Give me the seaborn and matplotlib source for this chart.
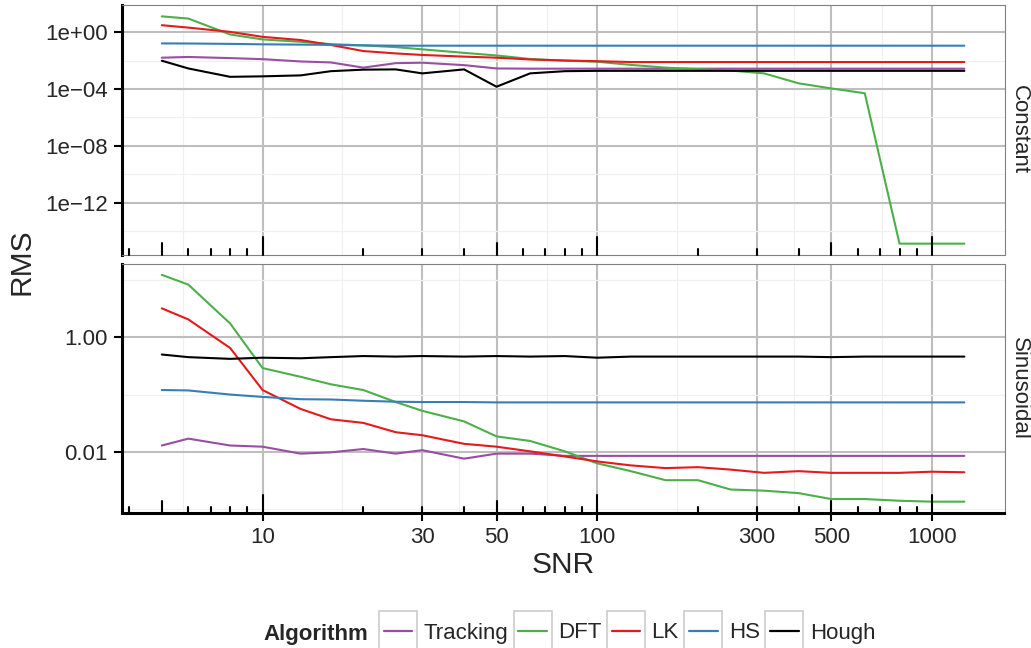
import pandas as pd
import seaborn as sns
import matplotlib.pyplot as plt
from matplotlib.patches import Rectangle
from matplotlib.lines import Line2D
from matplotlib.legend_handler import HandlerLine2D

# SNR values shared by every series
snr = [5, 6, 8, 10, 13, 16, 20, 25, 30, 40, 50, 63, 80, 100, 126, 160, 200,
       250, 315, 400, 500, 630, 800, 1000, 1250]

algorithms = ['Tracking', 'DFT', 'LK', 'HS', 'Hough']
colors = ['#984EA3', '#4DAF4A', '#E41A1C', '#377EB8', '#000000']

# Constant pattern
const_tracking = [1.6e-2, 1.8e-2, 1.5e-2, 1.26e-2, 8.7e-3, 7.4e-3, 3.2e-3, 6.6e-3, 7.1e-3,
                  4.8e-3, 2.8e-3, 2.7e-3, 2.7e-3, 2.7e-3, 2.7e-3, 2.7e-3, 2.7e-3, 2.7e-3,
                  2.7e-3, 2.7e-3, 2.7e-3, 2.7e-3, 2.7e-3, 2.7e-3, 2.7e-3]
const_dft = [13.0, 9.1, 0.69, 0.31, 0.21, 0.145, 0.117, 0.089, 0.062, 0.035, 0.023,
             0.013, 0.0098, 0.0083, 0.005, 0.0032, 0.0025, 0.002, 0.00126, 2.5e-4,
             1.1e-4, 5.0e-5, 1.3e-15, 1.3e-15, 1.3e-15]
const_lk = [3.1, 2.1, 1.05, 0.47, 0.28, 0.125, 0.047, 0.032, 0.025, 0.019, 0.016,
            0.012, 0.0102, 0.0091, 0.0079, 0.0079, 0.0079, 0.0079, 0.0079, 0.0079,
            0.0079, 0.0079, 0.0079, 0.0079, 0.0079]
const_hs = [0.162, 0.160, 0.150, 0.140, 0.133, 0.127, 0.118, 0.112, 0.112, 0.112,
            0.112, 0.112, 0.112, 0.112, 0.112, 0.112, 0.112, 0.112, 0.112, 0.112,
            0.112, 0.112, 0.112, 0.112, 0.112]
const_hough = [9.8e-3, 2.8e-3, 7.2e-4, 7.8e-4, 9.1e-4, 1.8e-3, 2.3e-3, 2.4e-3, 1.26e-3,
               2.4e-3, 1.45e-4, 1.26e-3, 1.8e-3, 1.9e-3, 1.9e-3, 1.9e-3, 1.9e-3, 1.9e-3,
               1.9e-3, 1.9e-3, 1.9e-3, 1.9e-3, 1.9e-3, 1.9e-3, 1.9e-3]

# Sinusoidal pattern
sin_tracking = [0.0129, 0.017, 0.0129, 0.0123, 0.0093, 0.0098, 0.0112, 0.0093, 0.0107,
                0.0076, 0.0093, 0.0093, 0.0085, 0.0085, 0.0085, 0.0085, 0.0085, 0.0085,
                0.0085, 0.0085, 0.0085, 0.0085, 0.0085, 0.0085, 0.0085]
sin_dft = [12.3, 8.3, 1.74, 0.29, 0.204, 0.151, 0.12, 0.074, 0.052, 0.034, 0.0186,
           0.0155, 0.0102, 0.0063, 0.0046, 0.0032, 0.0032, 0.0022, 0.0021, 0.0019,
           0.0015, 0.0015, 0.0014, 0.00135, 0.00135]
sin_lk = [3.2, 2.05, 0.65, 0.12, 0.056, 0.037, 0.032, 0.022, 0.0195, 0.0138, 0.0123,
          0.0102, 0.0083, 0.0068, 0.0058, 0.0052, 0.0054, 0.0049, 0.0043, 0.0046,
          0.0043, 0.0043, 0.0043, 0.0045, 0.0044]
sin_hs = [0.120, 0.118, 0.100, 0.091, 0.083, 0.082, 0.078, 0.075, 0.074, 0.074, 0.073,
          0.073, 0.073, 0.073, 0.073, 0.073, 0.073, 0.073, 0.073, 0.073, 0.073, 0.073,
          0.073, 0.073, 0.073]
sin_hough = [0.50, 0.45, 0.42, 0.44, 0.43, 0.45, 0.47, 0.46, 0.47, 0.46, 0.47, 0.46,
             0.47, 0.44, 0.46, 0.46, 0.46, 0.46, 0.46, 0.46, 0.45, 0.46, 0.46, 0.46, 0.46]

panels = {
    'Constant': [const_tracking, const_dft, const_lk, const_hs, const_hough],
    'Sinusoidal': [sin_tracking, sin_dft, sin_lk, sin_hs, sin_hough],
}

x_breaks = [10, 30, 50, 100, 300, 500, 1000]
x_minor = [5.77, 17.3, 38.7, 70.7, 173, 387, 707]
y_breaks = {'Constant': [1e0, 1e-4, 1e-8, 1e-12], 'Sinusoidal': [1.0, 0.01]}
y_labels = {'Constant': ['1e+00', '1e\u221204', '1e\u221208', '1e\u221212'],
            'Sinusoidal': ['1.00', '0.01']}
y_minor = {'Constant': [1e-2, 1e-6, 1e-10, 1e-14], 'Sinusoidal': [10, 0.1, 0.001]}

rows = []
for pattern, series in panels.items():
    for algo, vals in zip(algorithms, series):
        for s, v in zip(snr, vals):
            rows.append({'Pattern': pattern, 'Algorithm': algo, 'SNR': s, 'RMS': v})
df = pd.DataFrame(rows)

sns.set_theme(style='white')
plt.rcParams['font.family'] = ['Liberation Sans', 'DejaVu Sans']
plt.rcParams['font.size'] = 16

palette = dict(zip(algorithms, colors))


def log_range(vals, mult=0.05):
    # ggplot-style 5% expansion on the log scale
    from math import log10
    a, b = log10(min(vals)), log10(max(vals))
    pad = (b - a) * mult
    return 10 ** (a - pad), 10 ** (b + pad)


class BoxedLine(HandlerLine2D):
    # legend key drawn as a grey box with the line inside
    def create_artists(self, legend, orig_handle, xdescent, ydescent, width, height,
                       fontsize, trans):
        box_h = 28
        box = Rectangle((-xdescent, -ydescent + height / 2 - box_h / 2), width, box_h,
                        facecolor='white', edgecolor='#CCCCCC', lw=1.2, transform=trans)
        y = -ydescent + height / 2
        line = Line2D([-xdescent + 0.12 * width, -xdescent + 0.88 * width], [y, y],
                      color=orig_handle.get_color(), lw=1.6, transform=trans)
        return [box, line]


fig = plt.figure(figsize=(10.31, 6.48), dpi=100)
W, H = 1031, 648
left, right = 121.7 / W, 1004.5 / W
ax_top = fig.add_axes([left, 1 - 255 / H, right - left, 250 / H])
ax_bot = fig.add_axes([left, 1 - 513 / H, right - left, 249.5 / H], sharex=ax_top)

xlim = log_range(snr, 0.05)

for ax, pattern in [(ax_top, 'Constant'), (ax_bot, 'Sinusoidal')]:
    sub = df[df['Pattern'] == pattern]
    sns.lineplot(data=sub, x='SNR', y='RMS', hue='Algorithm', hue_order=algorithms,
                 palette=palette, estimator=None, lw=1.5, legend=False, ax=ax, zorder=3)
    ax.set_xscale('log')
    ax.set_yscale('log')
    ax.set_xlim(*xlim)
    ax.set_ylim(*log_range(sub['RMS'].tolist(), 0.05))

    ax.set_xticks(x_breaks)
    ax.set_xticks(x_minor, minor=True)
    ax.set_yticks(y_breaks[pattern])
    ax.set_yticklabels(y_labels[pattern])
    ax.set_yticks(y_minor[pattern], minor=True)
    ax.grid(True, which='major', color='#BEBEBE', lw=1.5, zorder=0)
    ax.grid(True, which='minor', color='#F0F0F0', lw=0.9, zorder=0)
    ax.set_axisbelow(True)
    ax.tick_params(which='minor', length=0, labelleft=False, labelbottom=False)
    ax.tick_params(axis='y', which='major', direction='out', length=6, width=1.5,
                   color='black', pad=4, labelsize=16, left=True)
    ax.set_xlabel('')
    ax.set_ylabel('')

    for side in ['top', 'right', 'bottom']:
        ax.spines[side].set_color('#808080')
        ax.spines[side].set_linewidth(0.8)
    ax.spines['left'].set_color('black')
    ax.spines['left'].set_linewidth(2.2)

    # log ticks along the bottom of each panel
    for k in range(0, 4):
        for d in range(1, 10):
            v = d * 10 ** k
            if v < xlim[0] or v > xlim[1]:
                continue
            if d == 1:
                length = 18
            elif d == 5:
                length = 12
            else:
                length = 6
            ax.plot([v, v], [0, length / 249.7], color='black', lw=1.5,
                    transform=ax.get_xaxis_transform(), clip_on=False, zorder=4)

    ax.text(1.0165, 0.5, pattern, transform=ax.transAxes, rotation=-90,
            ha='center', va='center', fontsize=16)

ax_top.tick_params(axis='x', which='major', length=0, labelbottom=False)
ax_bot.spines['bottom'].set_color('black')
ax_bot.spines['bottom'].set_linewidth(2.2)
ax_bot.set_xticklabels([str(b) for b in x_breaks])
ax_bot.tick_params(axis='x', which='major', direction='out', length=6, width=1.5,
                   color='black', pad=4, labelsize=16, bottom=True)

fig.text(563 / W, 1 - 573 / H, 'SNR', ha='center', va='baseline', fontsize=21.5)
fig.text(22 / W, 1 - 262 / H, 'RMS', ha='center', va='center', rotation=90, fontsize=21.5)

handles = [Line2D([], [], color=c) for c in colors]
fig.text(263 / W, 1 - 640 / H, 'Algorithm', ha='left', va='baseline', fontsize=16,
         fontweight='bold')
fig.legend(handles, algorithms, loc='center left', bbox_to_anchor=(379 / W, 1 - 633 / H),
           ncol=5, frameon=False, fontsize=16, handlelength=1.7, handletextpad=0.3,
           columnspacing=0.25, borderpad=0, borderaxespad=0,
           handler_map={Line2D: BoxedLine()})

fig.savefig('out.png', dpi=100)
